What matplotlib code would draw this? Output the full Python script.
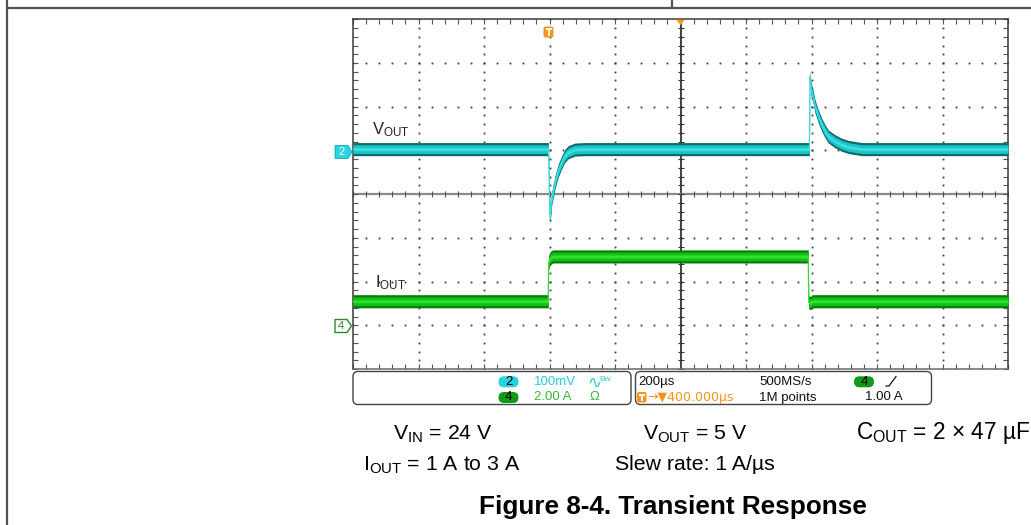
import numpy as np
import matplotlib
matplotlib.use("Agg")
import matplotlib.pyplot as plt
from matplotlib.patches import FancyBboxPatch, Polygon

# ---------------- data ----------------
# Horizontal: 200 us/div, 10 divisions, centre = 0 us
time_limits_us = [-1000, 1000]
# Vertical: 8 divisions
div_limits = [-4, 4]

# VOUT (ch2, AC coupled) deviation in mV, 100 mV/div
vout_scale_mv = 100
vout_t_us = [-1000, -403.5, -398.5, -393.3, -383.2, -373.1, -362.7, -352.7, -342.6,
             -322.1, -291.6, 393.4, 395.4, 398.5, 405.5, 410.7, 420.8, 431.1, 441.2,
             451.3, 471.8, 492.2, 512.4, 553.4, 1000]
vout_mv = [0, 0, -157, -113, -76, -49, -30, -15, -7,
           -1, 0, 0, 166, 138, 118, 98, 75, 56, 41,
           29, 18, 10, 5, 0, 0]

# IOUT (ch4) in A, 2 A/div
iout_scale_a = 2.0
iout_t_us = [-1000, -403.8, -402.8, -399.5, -394.0, -389.0, 390.0, 391.5, 397.5, 402.0, 1000]
iout_a = [1.10, 1.10, 2.85, 3.02, 3.12, 3.15, 3.15, 1.05, 1.02, 1.10, 1.10]

# status-box / caption texts
ch2_scale_txt = "100mV"
ch4_scale_txt = "2.00 A"
timebase_txt = "200\u00b5s"
sample_rate_txt = "500MS/s"
record_len_txt = "1M points"
trig_pos_txt = "\u2192\u25bc400.000\u00b5s"
trig_level_txt = "1.00 A"
caption_row1 = ["V$_{\\mathrm{IN}}$ = 24 V", "V$_{\\mathrm{OUT}}$ = 5 V",
                "C$_{\\mathrm{OUT}}$ = 2 \u00d7 47 \u00b5F"]
caption_row2 = ["I$_{\\mathrm{OUT}}$ = 1 A to 3 A", "Slew rate: 1 A/\u00b5s"]
title_txt = "Figure 8-4. Transient Response"

# ---------------- style ----------------
plt.rcParams["font.family"] = ["Liberation Sans", "DejaVu Sans"]
plt.rcParams["mathtext.fontset"] = "custom"
plt.rcParams["mathtext.rm"] = "Liberation Sans"
plt.rcParams["mathtext.it"] = "Liberation Sans:italic"
plt.rcParams["mathtext.bf"] = "Liberation Sans:bold"

W, H = 1031, 525
fig = plt.figure(figsize=(W / 100, H / 100), dpi=100)
fig.patch.set_facecolor("white")

# scope graticule axes (pixel box 353..1008 x 19..369)
L, T, R, B = 353, 19.3, 1008, 369
ax = fig.add_axes([L / W, 1 - B / H, (R - L) / W, (B - T) / H])
ax.set_xlim(*time_limits_us)
ax.set_ylim(*div_limits)
ax.set_facecolor("white")
for side in ["top", "right", "left"]:
    ax.spines[side].set_color("#3a3a3a")
    ax.spines[side].set_linewidth(1.1)
ax.spines["bottom"].set_color("#6a6a6a")
ax.spines["bottom"].set_linewidth(1.1)

ax.set_xticks(np.arange(-1000, 1001, 200))
ax.set_xticks(np.arange(-1000, 1001, 40), minor=True)
ax.set_yticks(np.arange(-4, 4.01, 1))
ax.set_yticks(np.arange(-4, 4.01, 0.2), minor=True)
ax.tick_params(which="both", direction="in", length=3.5, width=0.8, color="#555555",
               top=True, right=True, labelleft=False, labelbottom=False)

minor_y = np.arange(-4, 4.001, 0.2)
minor_x = np.arange(-1000, 1000.1, 40)
for xm in [-800, -600, -400, -200, 200, 400, 600, 800]:
    ax.plot([xm] * len(minor_y), minor_y, ls="none", marker="s", ms=1.3, mew=0,
            color="#3c3c3c", zorder=1)
for ym in [-3, -2, -1, 1, 2, 3]:
    ax.plot(minor_x, [ym] * len(minor_x), ls="none", marker="s", ms=1.3, mew=0,
            color="#3c3c3c", zorder=1)
ax.axvline(0, color="#222222", lw=1.2, zorder=1)
ax.axhline(0, color="#8a8a8a", lw=1.6, zorder=1)
ax.plot([0] * len(minor_y), minor_y, ls="none", marker="_", ms=5, mew=0.8,
        color="#333333", zorder=1)
ax.plot(minor_x, [0] * len(minor_x), ls="none", marker="|", ms=5, mew=0.8,
        color="#555555", zorder=1)

# trace positions on screen (divisions)
CH2_POS = 1.03
CH4_POS = -3.0

vt = np.array(vout_t_us, float)
vy = CH2_POS + np.array(vout_mv, float) / vout_scale_mv
it = np.array(iout_t_us, float)
iy = CH4_POS + np.array(iout_a, float) / iout_scale_a

# VOUT band
ax.fill_between(vt, vy - 0.15, vy + 0.15, color="#0b6c6e", lw=0, zorder=3)
ax.fill_between(vt, vy - 0.10, vy + 0.10, color="#19c3c8", lw=0, zorder=3)
ax.fill_between(vt, vy - 0.035, vy + 0.035, color="#3fdcdc", lw=0, zorder=3)
ax.plot(vt, vy, color="#3fdcdc", lw=0.9, zorder=4)

# IOUT band
ax.fill_between(it, iy - 0.15, iy + 0.15, color="#0a7a0e", lw=0, zorder=3)
ax.fill_between(it, iy - 0.10, iy + 0.10, color="#10c014", lw=0, zorder=3)
ax.fill_between(it, iy - 0.035, iy + 0.035, color="#2fe02f", lw=0, zorder=3)
ax.plot(it, iy, color="#2fe02f", lw=0.9, zorder=4)

# ---------------- overlay in pixel coordinates ----------------
ov = fig.add_axes([0, 0, 1, 1])
ov.set_xlim(0, W)
ov.set_ylim(H, 0)
ov.axis("off")
ov.patch.set_visible(False)

# page frame lines
ov.plot([7, 7], [0, H], color="#505050", lw=1.6, solid_capstyle="butt")
ov.plot([7, W], [7.5, 7.5], color="#505050", lw=1.6, solid_capstyle="butt")
ov.plot([672, 672], [0, 7.5], color="#505050", lw=1.6, solid_capstyle="butt")

ORANGE = "#f7941d"
CYAN = "#2ccbdc"
GREEN_TXT = "#3cb43c"


def t_icon(x0, y0, w, h):
    ov.add_patch(FancyBboxPatch((x0, y0), w, h, boxstyle="round,pad=0,rounding_size=2",
                                fc=ORANGE, ec="none"))
    cx = x0 + w / 2
    ov.plot([x0 + 2, x0 + w - 2], [y0 + 2.6, y0 + 2.6], color="white", lw=1.4,
            solid_capstyle="butt")
    ov.plot([cx, cx], [y0 + 2.6, y0 + h - 1.8], color="white", lw=1.4,
            solid_capstyle="butt")


# trigger marker and position triangle
t_icon(543.5, 26.5, 10, 11)
ov.add_patch(Polygon([(676, 19.5), (685, 19.5), (680.5, 25)], closed=True, fc=ORANGE, ec="none"))

# channel ground markers
ov.add_patch(Polygon([(335, 145.5), (348, 145.5), (352, 152), (348, 158.5), (335, 158.5)],
                     closed=True, fc="#2ad4e4", ec="#1aa8b8", lw=0.6))
ov.text(341.5, 152.3, "2", color="white", fontsize=8, ha="center", va="center")
ov.add_patch(Polygon([(335, 319.5), (347, 319.5), (351.5, 326), (347, 332.5), (335, 332.5)],
                     closed=True, fc="white", ec="#2a8a2a", lw=1.0))
ov.text(341, 326.3, "4", color="#2a8a2a", fontsize=8, ha="center", va="center")

# trace labels
ov.text(372, 134, "V$_{\\mathrm{OUT}}$", fontsize=12, color="#222222", ha="left", va="baseline")
ov.text(375, 287, "I$_{\\mathrm{OUT}}$", fontsize=12, color="#222222", ha="left", va="baseline")

# status boxes
ov.add_patch(FancyBboxPatch((353, 371.5), 278, 33, boxstyle="round,pad=0,rounding_size=5",
                            fc="white", ec="#444444", lw=1.0))
ov.add_patch(FancyBboxPatch((635.5, 371.5), 296, 33, boxstyle="round,pad=0,rounding_size=5",
                            fc="white", ec="#444444", lw=1.0))

r1, r2 = 381.8, 397.5
fs = 9.5
ov.add_patch(FancyBboxPatch((498.5, 376.3), 20, 11, boxstyle="round,pad=0,rounding_size=5.5",
                            fc="#27d3de", ec="none"))
ov.text(508.5, r1, "2", fontsize=fs, color="black", ha="center", va="center")
ov.add_patch(FancyBboxPatch((498.5, 392), 20, 11, boxstyle="round,pad=0,rounding_size=5.5",
                            fc="#119a17", ec="none"))
ov.text(508.5, r2, "4", fontsize=fs, color="black", ha="center", va="center")
ov.text(534, r1, ch2_scale_txt, fontsize=fs, color=CYAN, ha="left", va="center")
ov.text(534, r2, ch4_scale_txt, fontsize=fs, color=GREEN_TXT, ha="left", va="center")
ov.text(587, r1 + 0.5, "\u223f", fontsize=12, color=CYAN, ha="left", va="center",
        family=["DejaVu Sans"])
ov.text(599, r1 - 2.5, "Bw", fontsize=6, color=CYAN, ha="left", va="center")
ov.text(589, r2, "\u03a9", fontsize=fs, color=GREEN_TXT, ha="left", va="center")

ov.text(638, r1, timebase_txt, fontsize=fs, color="#111111", ha="left", va="center")
ov.text(759, r1, sample_rate_txt, fontsize=fs, color="#111111", ha="left", va="center")
ov.add_patch(FancyBboxPatch((854, 376.3), 20, 11, boxstyle="round,pad=0,rounding_size=5.5",
                            fc="#119a17", ec="none"))
ov.text(864, r1, "4", fontsize=fs, color="black", ha="center", va="center")
ov.plot([886, 889, 896], [386, 386, 376.5], color="#111111", lw=0.9)
t_icon(637, 392, 9.5, 10.5)
ov.text(647, r2, trig_pos_txt, fontsize=9, color=ORANGE, ha="left", va="center",
        family=["DejaVu Sans"])
ov.text(759, r2, record_len_txt, fontsize=fs, color="#111111", ha="left", va="center")
ov.text(865, r2, trig_level_txt, fontsize=fs, color="#111111", ha="left", va="center")

# captions
cfs = 15.3
ov.text(393, 439.5, caption_row1[0], fontsize=cfs, color="black", ha="left", va="baseline")
ov.text(643, 439.5, caption_row1[1], fontsize=cfs, color="black", ha="left", va="baseline")
ov.text(1030, 439.5, caption_row1[2], fontsize=16.3, color="black", ha="right", va="baseline")
ov.text(363, 470.5, caption_row2[0], fontsize=cfs, color="black", ha="left", va="baseline")
ov.text(615, 470.5, caption_row2[1], fontsize=cfs, color="black", ha="left", va="baseline")
ov.text(673, 514, title_txt, fontsize=18.8, fontweight="bold", color="black",
        ha="center", va="baseline")

fig.savefig("out.png", dpi=100, facecolor="white")
